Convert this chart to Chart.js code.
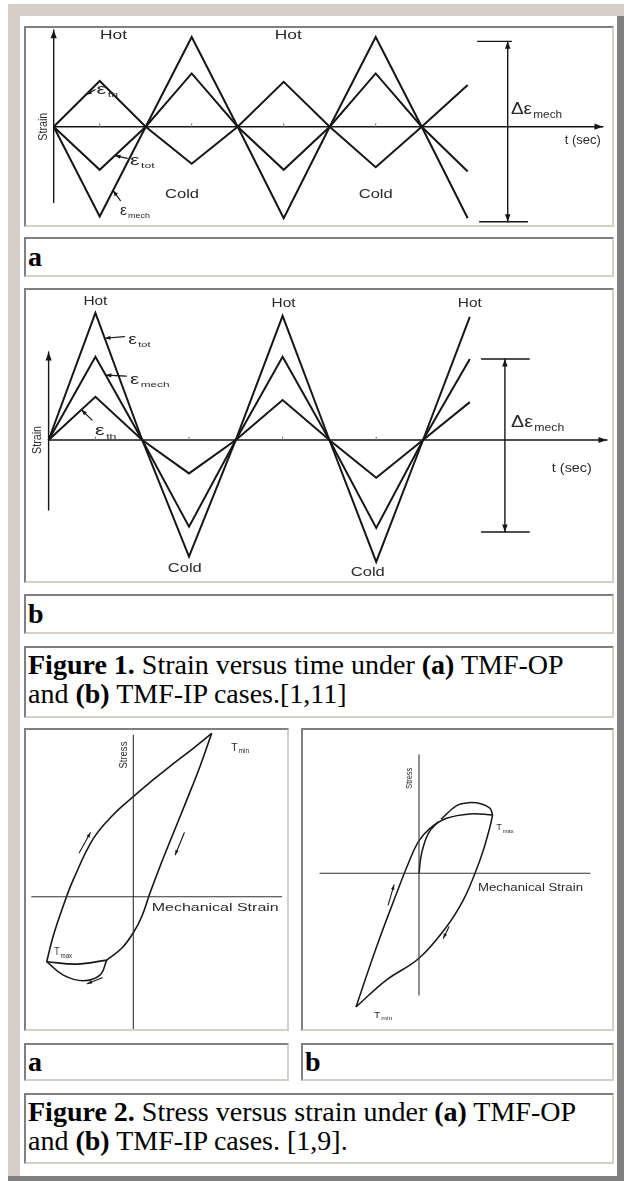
<!DOCTYPE html>
<html>
<head>
<meta charset="utf-8">
<script src="https://cdn.jsdelivr.net/npm/chart.js@4.4.0/dist/chart.umd.min.js"></script>
<style>
body{margin:0;background:#fff;width:624px;height:1181px;overflow:hidden;position:relative;font-family:"Liberation Serif","Times New Roman",serif;color:#000;}
.frame{position:absolute;left:8px;top:4px;width:616px;height:1177px;background:#d4d0c8;}
.dark-r{position:absolute;left:617px;top:16px;width:7px;height:1165px;background:#808080;}
.dark-b{position:absolute;left:8px;top:1176px;width:616px;height:5px;background:#808080;}
.inner{position:absolute;left:20px;top:16px;width:597px;height:1160px;background:#fff;}
.cell{position:absolute;box-sizing:border-box;border:2px solid;border-color:#808080 #d4d0c8 #d4d0c8 #808080;background:#fff;}
.lab{font-weight:bold;font-size:28px;line-height:36px;padding-left:2px;}
.cap{font-size:28px;line-height:29px;padding:2px 0 0 2px;white-space:nowrap;}
canvas{position:absolute;}
</style>
</head>
<body>
<div class="frame"></div>
<div class="dark-r"></div>
<div class="dark-b"></div>
<div class="inner"></div>

<div class="cell" style="left:24px;top:26px;width:590px;height:201px"></div>
<div class="cell lab" style="left:24px;top:237px;width:590px;height:40px">a</div>
<div class="cell" style="left:24px;top:288px;width:590px;height:295px"></div>
<div class="cell lab" style="left:24px;top:594px;width:590px;height:40px">b</div>
<div class="cell cap" style="left:24px;top:646px;width:590px;height:72px"><b>Figure 1.</b> Strain versus time under <b>(a)</b> TMF-OP<br>and <b>(b)</b> TMF-IP cases.[1,11]</div>
<div class="cell" style="left:24px;top:728px;width:265px;height:303px"></div>
<div class="cell" style="left:301px;top:728px;width:313px;height:303px"></div>
<div class="cell lab" style="left:24px;top:1043px;width:265px;height:38px;line-height:34px">a</div>
<div class="cell lab" style="left:301px;top:1043px;width:313px;height:38px;line-height:34px">b</div>
<div class="cell cap" style="left:24px;top:1093px;width:590px;height:71px"><b>Figure 2.</b> Stress versus strain under <b>(a)</b> TMF-OP<br>and <b>(b)</b> TMF-IP cases. [1,9].</div>

<canvas id="fig1a" width="586" height="197" style="left:26px;top:28px"></canvas>
<canvas id="fig1b" width="586" height="291" style="left:26px;top:290px"></canvas>
<canvas id="fig2a" width="261" height="299" style="left:26px;top:730px"></canvas>
<canvas id="fig2b" width="309" height="299" style="left:303px;top:730px"></canvas>

<script>
// Figure 1: strain vs time, time counted in quarter cycles
var quarterT = [0, 1, 2, 3, 4, 5, 6, 7, 8, 9]
var opThermal = [0, 1.04, 0, -0.84, 0, 1.02, 0, -0.92, 0, 0.95]
var opTotal   = [0, -0.98, 0, 1.21, 0, -0.98, 0, 1.21, 0, -1.02]
var opMech    = [0, -2.04, 0, 2.04, 0, -2.08, 0, 2.04, 0, -2.08]
var ipThermal = [0, 0.98, 0, -0.76, 0, 0.91, 0, -0.86, 0, 0.86]
var ipTotal   = [0, 2.89, 0, -2.65, 0, 2.82, 0, -2.77, 0, 2.80]
var ipMech    = [0, 1.89, 0, -1.97, 0, 1.89, 0, -2.00, 0, 1.84]
var axisTicks = [1, 3, 5, 7]

// Figure 2a (TMF-OP): stress vs mechanical strain, branches of the loop
var opLoadStrain   = [-4.33, -4.0, -3.5, -3.0, -2.0, -1.0, 0, 1.0, 2.0, 3.0, 3.92]
var opLoadStress   = [-3.25, -1.95, -0.45, 0.85, 2.9, 4.1, 5.0, 5.85, 6.65, 7.42, 8.17]
var opUnloadStrain = [3.92, 3.33, 2.67, 2.0, 1.33, 0.83, 0.42, 0, -0.58, -1.33]
var opUnloadStress = [8.17, 6.5, 4.83, 3.17, 1.5, 0.17, -1.0, -1.8, -2.58, -3.17]
var opLensTopStrain = [-1.33, -2.83, -4.33]
var opLensTopStress = [-3.17, -3.37, -3.25]
var opLensLowStrain = [-4.33, -3.5, -2.5, -1.67, -1.33]
var opLensLowStress = [-3.25, -3.92, -4.2, -3.92, -3.17]

// Figure 2b (TMF-IP)
var ipLoadStrain   = [-3.15, -2.12, -1.12, -0.53, -0.03, 0.55, 1.38, 2.55, 3.68]
var ipLoadStress   = [-6.68, -3.67, -1.0, 0.5, 1.58, 2.25, 2.75, 2.97, 2.92]
var ipCapStrain    = [1.1, 1.88, 2.47, 3.13, 3.55, 3.68]
var ipCapStress    = [2.7, 3.38, 3.53, 3.47, 3.25, 2.92]
var ipUnloadStrain = [3.68, 3.55, 3.22, 2.8, 2.22, 1.38, 0, -1.62, -3.15]
var ipUnloadStress = [2.92, 2.33, 1.17, 0, -1.33, -2.67, -4.25, -5.33, -6.68]
var ipInitStrain   = [0, 0.13, 0.47, 0.97]
var ipInitStress   = [0, 1.0, 2.0, 2.58]

var ink = '#161616', textInk = '#2a2a2a'
var sansFont = '"Liberation Sans", Arial, sans-serif'

function pairs(xs, ys) {
    return xs.map((x, i) => ({x: x, y: ys[i]}))
}

function valueAt(data, t) {
    for (let i = 0; i < data.length - 1; i++) {
        let a = data[i], b = data[i + 1]
        if (t >= a.x && t <= b.x) return a.y + (b.y - a.y) * (t - a.x) / (b.x - a.x)
    }
    return data[data.length - 1].y
}

function arrowHead(ctx, x1, y1, x2, y2, size) {
    let ang = Math.atan2(y2 - y1, x2 - x1)
    ctx.beginPath()
    ctx.moveTo(x2, y2)
    ctx.lineTo(x2 - size * Math.cos(ang - 0.35), y2 - size * Math.sin(ang - 0.35))
    ctx.lineTo(x2 - size * Math.cos(ang + 0.35), y2 - size * Math.sin(ang + 0.35))
    ctx.closePath()
    ctx.fill()
}

function drawLabel(ctx, x, y, item) {
    let size = item.size || 12, subSize = item.subSize || Math.round(size * 0.6)
    ctx.save()
    ctx.translate(x, y)
    if (item.rotate) ctx.rotate(item.rotate * Math.PI / 180)
    ctx.font = size + 'px ' + sansFont
    let w = ctx.measureText(item.text).width, subW = 0
    if (item.sub) {
        ctx.font = subSize + 'px ' + sansFont
        subW = ctx.measureText(item.sub).width
    }
    let total = w + subW
    if (item.width) ctx.scale(item.width / total, 1)
    let start = item.align === 'left' ? 0 : -total / 2
    ctx.fillStyle = textInk
    ctx.textBaseline = 'middle'
    ctx.textAlign = 'left'
    ctx.font = size + 'px ' + sansFont
    ctx.fillText(item.text, start, 0)
    if (item.sub) {
        ctx.font = subSize + 'px ' + sansFont
        ctx.fillText(item.sub, start + w + 1, size * 0.35)
    }
    ctx.restore()
}

var sketchPlugin = {
    id: 'sketch',
    afterDatasetsDraw(chart, args, opts) {
        let ctx = chart.ctx, xs = chart.scales.x, ys = chart.scales.y
        let px = v => xs.getPixelForValue(v), py = v => ys.getPixelForValue(v)
        ctx.save()
        ctx.lineCap = 'round'
        ;(opts.lines || []).forEach(l => {
            let x1 = px(l.from[0]), y1 = py(l.from[1]), x2 = px(l.to[0]), y2 = py(l.to[1])
            ctx.strokeStyle = l.color || ink
            ctx.fillStyle = l.color || ink
            ctx.lineWidth = l.width || 1.5
            ctx.beginPath(); ctx.moveTo(x1, y1); ctx.lineTo(x2, y2); ctx.stroke()
            if (l.head) arrowHead(ctx, x1, y1, x2, y2, l.head)
            if (l.tail) arrowHead(ctx, x2, y2, x1, y1, l.tail)
        })
        // faint tick marks on the time axis
        ;(opts.ticks || []).forEach(t => {
            ctx.strokeStyle = '#777'; ctx.lineWidth = 1
            ctx.beginPath(); ctx.moveTo(px(t), py(0)); ctx.lineTo(px(t), py(0) - 3); ctx.stroke()
        })
        ;(opts.leaders || []).forEach(l => {
            let data = chart.data.datasets[l.series].data
            let x1 = px(l.from[0]), y1 = py(l.from[1])
            let x2 = px(l.at), y2 = py(valueAt(data, l.at))
            ctx.strokeStyle = ink; ctx.fillStyle = ink; ctx.lineWidth = 1.2
            ctx.beginPath(); ctx.moveTo(x1, y1); ctx.lineTo(x2, y2); ctx.stroke()
            arrowHead(ctx, x1, y1, x2, y2, 6)
        })
        ;(opts.texts || []).forEach(t => drawLabel(ctx, px(t.at[0]), py(t.at[1]), t))
        ctx.restore()
    }
}

function buildSketch(canvas_id, datasets, xRange, yRange, sketch, tension, lineWidth) {
    return new Chart(document.getElementById(canvas_id).getContext('2d'), {
        type: 'scatter',
        data: {datasets: datasets.map(d => ({data: d, showLine: true, borderColor: ink, borderWidth: lineWidth, pointRadius: 0, tension: tension, fill: false}))},
        options: {
            responsive: false,
            animation: false,
            devicePixelRatio: 1,
            layout: {padding: 0},
            scales: {
                x: {type: 'linear', display: false, min: xRange[0], max: xRange[1]},
                y: {type: 'linear', display: false, min: yRange[0], max: yRange[1]}
            },
            plugins: {legend: {display: false}, tooltip: {enabled: false}, sketch: sketch}
        },
        plugins: [sketchPlugin]
    })
}

buildSketch('fig1a',
    [pairs(quarterT, opThermal), pairs(quarterT, opTotal), pairs(quarterT, opMech)],
    [-0.602, 12.137], [-2.234, 2.243],
    {
        lines: [
            {from: [0, -1.725], to: [0, 2.2], head: 9, width: 1.4},
            {from: [0, 0], to: [11.94, 0], head: 9, width: 1.4},
            {from: [9.87, 1.94], to: [9.87, -2.16], head: 8, tail: 8, width: 1.4},
            {from: [9.215, 1.94], to: [9.95, 1.94], width: 1.4},
            {from: [9.26, -2.16], to: [10.3, -2.16], width: 1.4}
        ],
        ticks: axisTicks,
        leaders: [
            {series: 0, at: 0.7, from: [0.9, 0.84]},
            {series: 1, at: 1.33, from: [1.6, -0.72]},
            {series: 2, at: 1.29, from: [1.45, -1.68]}
        ],
        texts: [
            {text: 'Hot', at: [1.30, 2.08], size: 13, width: 27},
            {text: 'Hot', at: [5.10, 2.08], size: 13, width: 27},
            {text: 'Cold', at: [2.79, -1.53], size: 13, width: 34},
            {text: 'Cold', at: [7.00, -1.53], size: 13, width: 34},
            {text: 't (sec)', at: [11.5, -0.31], size: 13, width: 36},
            {text: 'Strain', at: [-0.215, 0], size: 12, width: 28, rotate: -90},
            {text: 'Δε', sub: 'mech', at: [9.94, 0.39], size: 16, subSize: 10, width: 50, align: 'left'},
            {text: 'ε', sub: 'th', at: [0.93, 0.84], size: 14, subSize: 8, width: 20, align: 'left'},
            {text: 'ε', sub: 'tot', at: [1.66, -0.78], size: 14, subSize: 8, width: 23, align: 'left'},
            {text: 'ε', sub: 'mech', at: [1.44, -1.92], size: 14, subSize: 8, width: 29, align: 'left'}
        ]
    }, 0, 2)

buildSketch('fig1b',
    [pairs(quarterT, ipThermal), pairs(quarterT, ipTotal), pairs(quarterT, ipMech)],
    [-0.483, 12.038], [-3.205, 3.409],
    {
        lines: [
            {from: [0, -1.59], to: [0, 2.0], head: 9, width: 1.4},
            {from: [0, 0], to: [11.93, 0], head: 9, width: 1.4},
            {from: [9.75, 1.84], to: [9.75, -2.09], head: 8, tail: 8, width: 1.4},
            {from: [9.25, 1.84], to: [10.27, 1.84], width: 1.4},
            {from: [9.25, -2.09], to: [10.27, -2.09], width: 1.4}
        ],
        ticks: axisTicks,
        leaders: [
            {series: 1, at: 1.2, from: [1.62, 2.35]},
            {series: 2, at: 1.22, from: [1.66, 1.45]},
            {series: 0, at: 0.7, from: [0.93, 0.45]}
        ],
        texts: [
            {text: 'Hot', at: [1.00, 3.16], size: 13, width: 24},
            {text: 'Hot', at: [5.02, 3.11], size: 13, width: 24},
            {text: 'Hot', at: [9.00, 3.11], size: 13, width: 24},
            {text: 'Cold', at: [2.91, -2.91], size: 13, width: 34},
            {text: 'Cold', at: [6.82, -3.00], size: 13, width: 34},
            {text: 't (sec)', at: [11.18, -0.64], size: 13, width: 40},
            {text: 'Strain', at: [-0.23, 0], size: 12, width: 28, rotate: -90},
            {text: 'Δε', sub: 'mech', at: [9.88, 0.39], size: 16, subSize: 10, width: 52, align: 'left'},
            {text: 'ε', sub: 'tot', at: [1.70, 2.27], size: 14, subSize: 8, width: 21, align: 'left'},
            {text: 'ε', sub: 'mech', at: [1.74, 1.36], size: 14, subSize: 8, width: 38, align: 'left'},
            {text: 'ε', sub: 'th', at: [0.99, 0.19], size: 14, subSize: 8, width: 20, align: 'left'}
        ]
    }, 0, 2)

buildSketch('fig2a',
    [pairs(opLoadStrain, opLoadStress), pairs(opUnloadStrain, opUnloadStress),
     pairs(opLensTopStrain, opLensTopStress), pairs(opLensLowStrain, opLensLowStress)],
    [-5.365, 7.685], [-6.615, 8.335],
    {
        lines: [
            {from: [0, 8.08], to: [0, -6.7], width: 1.1, color: '#333'},
            {from: [-5.08, 0], to: [7.42, 0], width: 1.1, color: '#333'},
            {from: [-2.7, 2.2], to: [-2.15, 3.2], head: 5, width: 1.1},
            {from: [2.55, 3.2], to: [2.1, 2.1], head: 5, width: 1.1},
            {from: [-1.55, -4.05], to: [-2.3, -4.35], head: 5, width: 1.1}
        ],
        texts: [
            {text: 'Stress', at: [-0.45, 7.08], size: 11, width: 27, rotate: -90},
            {text: 'Mechanical Strain', at: [0.92, -0.58], size: 11, width: 127, align: 'left'},
            {text: 'T', sub: 'min', at: [4.9, 7.46], size: 11, subSize: 7, width: 17, align: 'left'},
            {text: 'T', sub: 'max', at: [-3.95, -2.8], size: 10, subSize: 7, width: 17, align: 'left'}
        ]
    }, 0.4, 1.6)

buildSketch('fig2b',
    [pairs(ipLoadStrain, ipLoadStress), pairs(ipCapStrain, ipCapStress),
     pairs(ipUnloadStrain, ipUnloadStress), pairs(ipInitStrain, ipInitStress)],
    [-5.8, 9.65], [-7.785, 7.165],
    {
        lines: [
            {from: [0, 5.92], to: [0, -6.08], width: 1.1, color: '#333'},
            {from: [-4.95, 0], to: [8.55, 0], width: 1.1, color: '#333'},
            {from: [-1.54, -1.58], to: [-1.25, -0.58], head: 5, width: 1.1},
            {from: [1.5, -2.67], to: [1.22, -3.25], head: 5, width: 1.1}
        ],
        texts: [
            {text: 'Stress', at: [-0.45, 4.75], size: 9, width: 21, rotate: -90},
            {text: 'Mechanical Strain', at: [2.95, -0.75], size: 10, width: 105, align: 'left'},
            {text: 'T', sub: 'max', at: [3.88, 2.28], size: 9, subSize: 6, width: 16, align: 'left'},
            {text: 'T', sub: 'min', at: [-2.25, -7.1], size: 9, subSize: 6, width: 17, align: 'left'}
        ]
    }, 0.4, 1.5)
</script>
</body>
</html>
